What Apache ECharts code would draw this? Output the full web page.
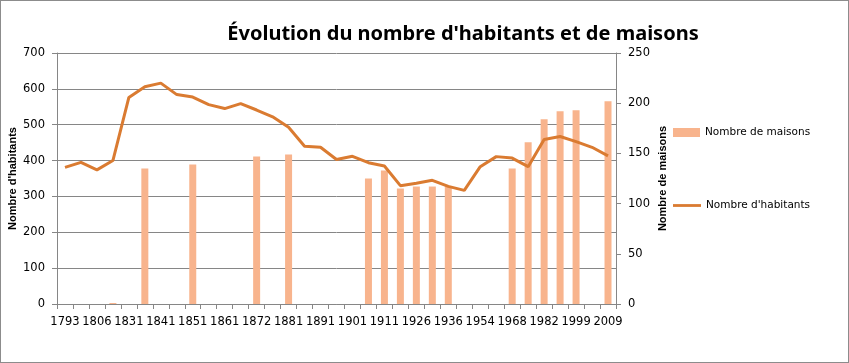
<!DOCTYPE html>
<html><head><meta charset="utf-8">
<script src="https://cdn.jsdelivr.net/npm/echarts@6/dist/echarts.min.js"></script>
<style>html,body{margin:0;padding:0;background:#fff}#c{width:849px;height:363px;box-sizing:border-box;border:1px solid #8c8c8c}</style>
</head><body><div id="c"></div>
<script>
const years = ['1793','1800','1806','1821','1831','1836','1841','1846','1851','1856','1861','1866','1872','1876','1881','1886','1891','1896','1901','1906','1911','1921','1926','1931','1936','1946','1954','1962','1968','1975','1982','1990','1999','2006','2009'];
const habitants = [381,395,374,400,576,606,616,584,577,556,545,559,541,522,493,440,437,403,412,394,385,330,337,345,328,317,383,411,407,383,459,467,453,437,413];
const maisons = [null,null,null,1,null,135,null,null,139,null,null,null,147,null,149,null,null,null,null,125,133,115,117,117,117,null,null,null,135,161,184,192,193,null,202];
const titleText = "Évolution du nombre d'habitants et de maisons";
const lineColor = '#DA7B31';
const barColor = '#F8B48D';
const font = 'DejaVu Sans';
const chart = echarts.init(document.getElementById('c'));
chart.setOption({
  animation:false,
  title:{text:titleText,left:457,top:18,textAlign:'center',textStyle:{fontFamily:'Noto Sans',fontWeight:'bold',fontSize:20,color:'#000'}},
  grid:{left:56,right:232,top:52,bottom:58,outerBoundsMode:'none',containLabel:false},
  legend:[
    {data:[{name:'Nombre de maisons'}],left:672,top:126,padding:0,itemWidth:27,itemHeight:9,icon:'rect',textStyle:{fontFamily:font,fontSize:10.5,color:'#000'}},
    {data:[{name:"Nombre d'habitants",icon:'path://M0,0 L30,0 L30,3 L0,3 Z'}],left:672,top:199,padding:0,itemWidth:28,itemHeight:3,textStyle:{fontFamily:font,fontSize:10.5,color:'#000'}}
  ],
  xAxis:{type:'category',data:years,boundaryGap:true,
    axisLine:{lineStyle:{color:'#868686'}},
    axisTick:{show:true,alignWithLabel:false,interval:0,length:5,lineStyle:{color:'#868686'}},
    axisLabel:{interval:1,fontFamily:font,fontSize:11.5,color:'#000',margin:12}},
  yAxis:[
    {type:'value',min:0,max:700,interval:100,name:"Nombre d'habitants",nameLocation:'middle',nameGap:39,nameRotate:90,nameMoveOverlap:false,
     nameTextStyle:{fontFamily:'Liberation Sans',fontWeight:'bold',fontSize:11,color:'#000'},
     axisLine:{show:true,lineStyle:{color:'#868686'}},axisTick:{show:true,length:5,lineStyle:{color:'#868686'}},
     splitLine:{lineStyle:{color:'#868686'}},
     axisLabel:{fontFamily:font,fontSize:11.5,color:'#000',margin:12}},
    {type:'value',min:0,max:250,interval:50,name:'Nombre de maisons',nameLocation:'middle',nameGap:41,nameRotate:90,nameMoveOverlap:false,
     nameTextStyle:{fontFamily:'Liberation Sans',fontWeight:'bold',fontSize:11,color:'#000'},
     axisLine:{show:true,lineStyle:{color:'#868686'}},axisTick:{show:true,length:5,lineStyle:{color:'#868686'}},
     splitLine:{show:false},
     axisLabel:{fontFamily:font,fontSize:11.5,color:'#000',margin:12}}
  ],
  series:[
    {name:'Nombre de maisons',type:'bar',yAxisIndex:1,data:maisons,barWidth:7,itemStyle:{color:barColor}},
    {name:"Nombre d'habitants",type:'line',yAxisIndex:0,data:habitants,symbol:'none',lineStyle:{color:lineColor,width:3},itemStyle:{color:lineColor}}
  ]
});
</script></body></html>
